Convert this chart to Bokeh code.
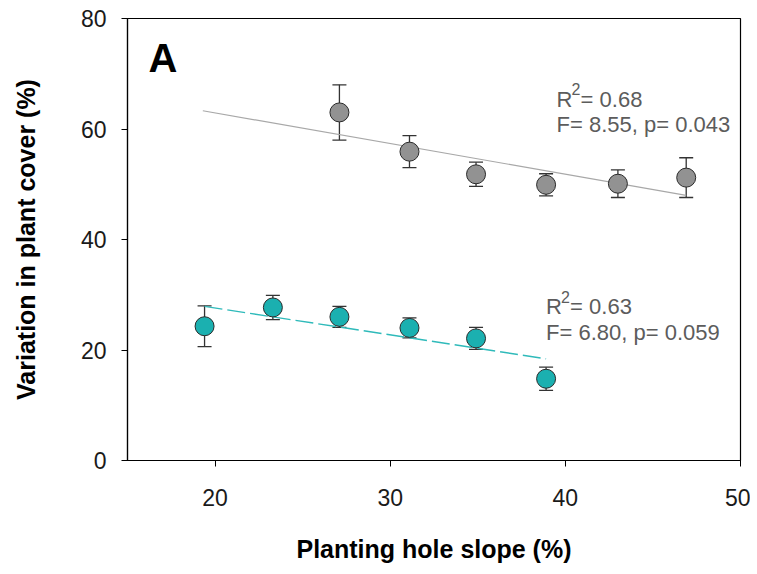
from bokeh.plotting import figure
from bokeh.models import Range1d, FixedTicker, Whisker, TeeHead, ColumnDataSource, Label
from bokeh.embed import file_html
from bokeh.resources import INLINE

# ---- data ----
gray_x = [27.1, 31.1, 34.9, 38.9, 43.0, 46.9]
gray_y = [63.0, 55.9, 51.8, 49.9, 50.1, 51.2]
gray_err = [5.0, 2.9, 2.2, 2.0, 2.5, 3.6]

teal_x = [19.4, 23.3, 27.1, 31.1, 34.9, 38.9]
teal_y = [24.3, 27.7, 26.0, 24.0, 22.1, 14.8]
teal_err = [3.7, 2.2, 1.9, 1.8, 2.0, 2.1]

gray_fit_x = [19.3, 46.9]
gray_fit_y = [63.3, 48.0]
teal_fit_x = [19.4, 38.9]
teal_fit_y = [27.9, 18.4]

x_ticks = [20, 30, 40, 50]
y_ticks = [0, 20, 40, 60, 80]

FONT = "Liberation Sans"

p = figure(width=750, height=566, output_backend="svg", toolbar_location=None,
           x_range=Range1d(15, 50), y_range=Range1d(0, 80),
           min_border_left=127, min_border_top=18, min_border_right=10, min_border_bottom=106)
p.xgrid.visible = False
p.ygrid.visible = False
p.outline_line_color = "black"
p.outline_line_width = 1.2
p.background_fill_color = "white"
p.border_fill_color = "white"

for ax in (p.xaxis[0], p.yaxis[0]):
    ax.axis_line_color = "black"
    ax.axis_line_width = 1.2
    ax.major_tick_line_color = "black"
    ax.major_tick_in = 0
    ax.major_tick_out = 6
    ax.minor_tick_line_color = None
    ax.major_label_text_font = FONT
    ax.major_label_text_font_size = "23px"
    ax.major_label_text_color = "#1a1a1a"
    ax.axis_label_text_font = FONT
    ax.axis_label_text_font_style = "bold"
    ax.axis_label_text_font_size = "25px"
    ax.axis_label_text_color = "black"

p.xaxis.ticker = FixedTicker(ticks=x_ticks)
p.yaxis.ticker = FixedTicker(ticks=y_ticks)
p.xaxis.major_label_standoff = 22
p.yaxis.major_label_standoff = 15
p.xaxis.axis_label = "Planting hole slope (%)"
p.yaxis.axis_label = "Variation in plant cover (%)"
p.xaxis.axis_label_standoff = 26
p.yaxis.axis_label_standoff = 38

# regression lines
p.line(gray_fit_x, gray_fit_y, line_color="#a8a8a8", line_width=1.2)
p.line(teal_fit_x, teal_fit_y, line_color="#2fbaba", line_width=1.4, line_dash="18 5")

def series(xs, ys, errs, fill):
    src = ColumnDataSource(dict(x=xs, y=ys,
                                lo=[a - b for a, b in zip(ys, errs)],
                                hi=[a + b for a, b in zip(ys, errs)]))
    w = Whisker(source=src, base="x", lower="lo", upper="hi", level="underlay",
                line_color="#333333", line_width=1.3,
                upper_head=TeeHead(size=14, line_color="#333333", line_width=1.3),
                lower_head=TeeHead(size=14, line_color="#333333", line_width=1.3))
    p.add_layout(w)
    p.scatter("x", "y", source=src, size=19, fill_color=fill,
              line_color="#2a2a2a", line_width=1)

series(gray_x, gray_y, gray_err, "#929292")
series(teal_x, teal_y, teal_err, "#1bb0b0")

TXT = "#5c5c5c"
def stat(x, y1, y2, r2, fline):
    kw = dict(text_font=FONT, text_color=TXT, text_baseline="alphabetic")
    p.add_layout(Label(x=x, y=y1, text="R", text_font_size="22px", **kw))
    p.add_layout(Label(x=x, y=y1, x_offset=15, y_offset=10, text="2",
                       text_font_size="16px", **kw))
    p.add_layout(Label(x=x, y=y1, x_offset=24, text="= " + r2,
                       text_font_size="22px", **kw))
    p.add_layout(Label(x=x, y=y2, text=fline, text_font_size="22px", **kw))

stat(39.5, 65.4, 60.8, "0.68", "F= 8.55, p= 0.043")
stat(38.9, 27.8, 23.2, "0.63", "F= 6.80, p= 0.059")

p.add_layout(Label(x=16.2, y=72.9, text="A", text_font=FONT, text_font_style="bold",
                   text_font_size="40px", text_color="black", text_baseline="alphabetic"))

open("out.html", "w").write(file_html(p, INLINE))
